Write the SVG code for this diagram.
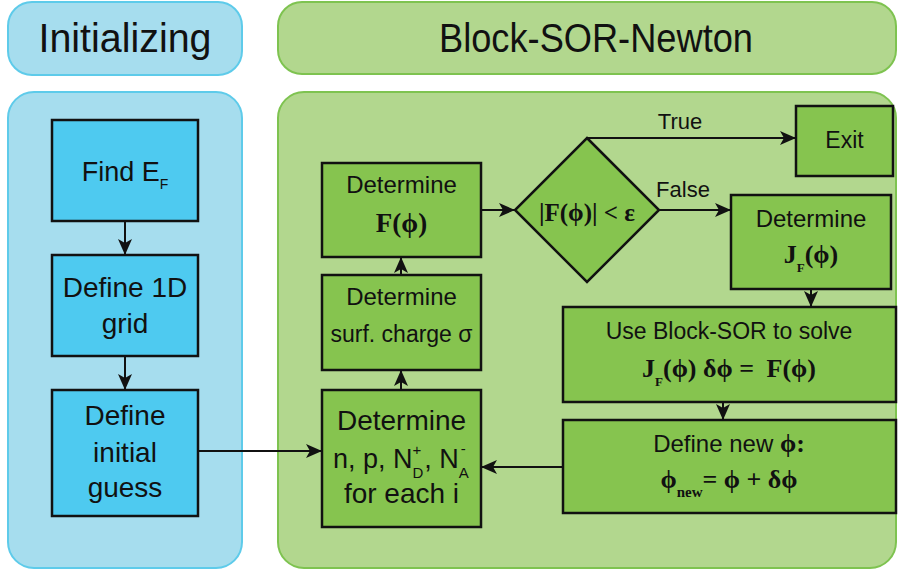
<svg xmlns="http://www.w3.org/2000/svg" width="899" height="572" viewBox="0 0 899 572">
<style>
.pb{fill:#a6ddee;stroke:#5ecbea;stroke-width:2}
.pg{fill:#b2d78e;stroke:#7ec350;stroke-width:2}
.nb{fill:#4ecaf0;stroke:#111;stroke-width:2.5}
.ng{fill:#86c44f;stroke:#111;stroke-width:2.5}
.t{font-family:"Liberation Sans",Arial,sans-serif;fill:#111;text-anchor:middle}
.s{text-anchor:start}
.m{font-family:"Liberation Serif","Times New Roman",serif;font-weight:bold;fill:#111;text-anchor:middle}
.c{fill:none;stroke:#111;stroke-width:2}
</style>
<defs>
<marker id="ah" markerUnits="userSpaceOnUse" viewBox="0 0 16 14" markerWidth="16" markerHeight="14" refX="16" refY="7" orient="auto">
<path d="M0,0 L16,7 L0,14 L4,7 z" fill="#111"/>
</marker>
</defs>
<!-- panels -->
<g id="panel-init">
<rect class="pb" x="8" y="2" width="234" height="73" rx="24"/>
<text class="t" x="125" y="52" font-size="40" textLength="173" lengthAdjust="spacingAndGlyphs">Initializing</text>
<rect class="pb" x="8" y="92" width="234" height="476" rx="26"/>
</g>
<g id="panel-newton">
<rect class="pg" x="278" y="2" width="618" height="72" rx="24"/>
<text class="t" x="596" y="52" font-size="40" textLength="314" lengthAdjust="spacingAndGlyphs">Block-SOR-Newton</text>
<rect class="pg" x="278" y="92" width="618" height="476" rx="26"/>
</g>
<!-- nodes -->
<g id="find-ef">
<rect class="nb" x="52" y="120" width="146" height="101"/>
<text class="t" x="125" y="181" font-size="27">Find E<tspan font-size="14" dy="8">F</tspan></text>
</g>
<g id="define-grid">
<rect class="nb" x="52" y="255" width="146" height="101"/>
<text class="t" x="125" y="297" font-size="28">Define 1D</text>
<text class="t" x="125" y="333" font-size="28">grid</text>
</g>
<g id="initial-guess">
<rect class="nb" x="52" y="390" width="146" height="126"/>
<text class="t" x="125" y="425" font-size="28">Define</text>
<text class="t" x="125" y="462" font-size="28">initial</text>
<text class="t" x="125" y="497" font-size="28">guess</text>
</g>
<g id="determine-f">
<rect class="ng" x="322" y="163" width="159" height="94"/>
<text class="t" x="401.5" y="193" font-size="24">Determine</text>
<text class="m" x="401.5" y="232" font-size="27">F(ϕ)</text>
</g>
<g id="surf-charge">
<rect class="ng" x="322" y="275" width="159" height="95"/>
<text class="t" x="401.5" y="305" font-size="24">Determine</text>
<text class="t" x="401.5" y="342" font-size="23">surf. charge σ</text>
</g>
<g id="determine-np">
<rect class="ng" x="322" y="390" width="159" height="137"/>
<text class="t" x="401.5" y="430" font-size="28">Determine</text>
<text class="t s" x="333" y="468" font-size="27">n, p, N<tspan font-size="15" dy="10">D</tspan><tspan font-size="15" dx="-11" dy="-23">+</tspan><tspan dx="3" dy="13">, N</tspan><tspan font-size="15" dy="10">A</tspan><tspan font-size="15" dx="-8" dy="-24">-</tspan></text>
<text class="t" x="401.5" y="503" font-size="28">for each i</text>
</g>
<g id="check">
<polygon class="ng" points="587,138 659,210 587,282 515,210"/>
<text class="m" x="587" y="221" font-size="25">|F(ϕ)| &lt; ε</text>
</g>
<g id="exit">
<rect class="ng" x="796" y="106" width="97" height="70"/>
<text class="t" x="844.5" y="148" font-size="23">Exit</text>
</g>
<g id="determine-jf">
<rect class="ng" x="731" y="195" width="160" height="94"/>
<text class="t" x="811" y="227" font-size="24">Determine</text>
<text class="m" x="811" y="263" font-size="26">J<tspan font-size="13" dy="9">F</tspan><tspan dy="-9">(ϕ)</tspan></text>
</g>
<g id="block-sor">
<rect class="ng" x="563" y="307" width="333" height="95"/>
<text class="t" x="729" y="339" font-size="23">Use Block-SOR to solve</text>
<text class="m" x="729" y="377" font-size="26">J<tspan font-size="13" dy="9">F</tspan><tspan dy="-9">(ϕ) δϕ = </tspan><tspan dx="6">F(ϕ)</tspan></text>
</g>
<g id="define-new">
<rect class="ng" x="563" y="420" width="333" height="93"/>
<text class="t" x="729" y="452" font-size="24">Define new <tspan class="m" font-size="26">ϕ:</tspan></text>
<text class="m" x="729" y="488" font-size="26">ϕ<tspan font-size="15" dy="9">new</tspan><tspan dy="-9">= ϕ + δϕ</tspan></text>
</g>
<!-- connectors -->
<g id="connectors">
<line class="c" x1="125" y1="221" x2="125" y2="255" marker-end="url(#ah)"/>
<line class="c" x1="125" y1="356" x2="125" y2="390" marker-end="url(#ah)"/>
<line class="c" x1="198" y1="451" x2="322" y2="451" marker-end="url(#ah)"/>
<line class="c" x1="401" y1="390" x2="401" y2="370" marker-end="url(#ah)"/>
<line class="c" x1="401" y1="275" x2="401" y2="257" marker-end="url(#ah)"/>
<line class="c" x1="481" y1="210" x2="515" y2="210" marker-end="url(#ah)"/>
<line class="c" x1="587" y1="138" x2="796" y2="138" marker-end="url(#ah)"/>
<line class="c" x1="659" y1="210" x2="731" y2="210" marker-end="url(#ah)"/>
<line class="c" x1="811" y1="289" x2="811" y2="307" marker-end="url(#ah)"/>
<line class="c" x1="723" y1="402" x2="723" y2="420" marker-end="url(#ah)"/>
<line class="c" x1="563" y1="467" x2="481" y2="467" marker-end="url(#ah)"/>
<text class="t" x="680" y="129" font-size="22">True</text>
<text class="t" x="683" y="197" font-size="22">False</text>
</g>
</svg>
